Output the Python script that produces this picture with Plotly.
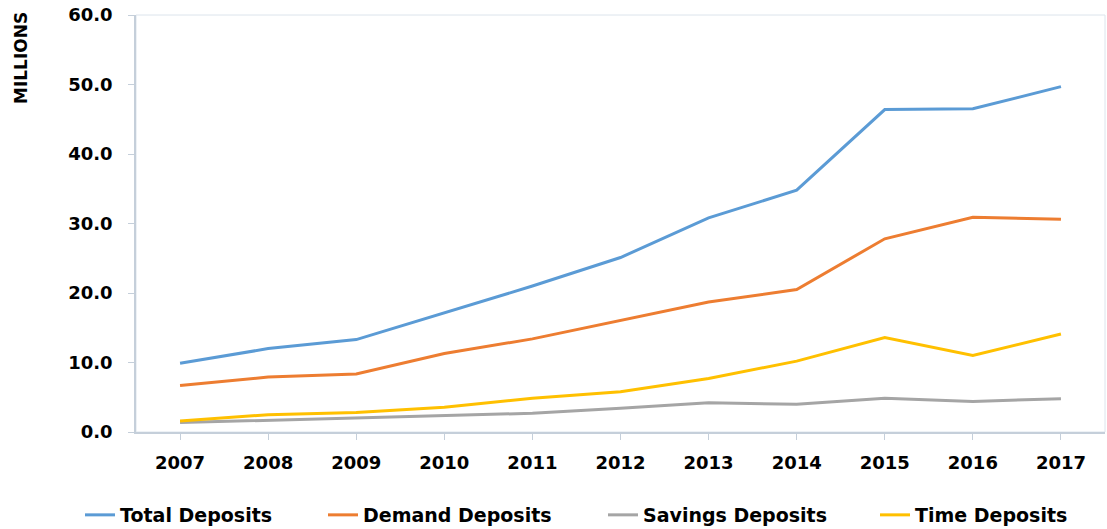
import plotly.graph_objects as go

years = ["2007", "2008", "2009", "2010", "2011", "2012", "2013", "2014", "2015", "2016", "2017"]
total_deposits = [9.9, 12.0, 13.3, 17.2, 21.0, 25.1, 30.8, 34.8, 46.4, 46.5, 49.7]
demand_deposits = [6.7, 7.9, 8.35, 11.3, 13.4, 16.0, 18.7, 20.5, 27.8, 30.9, 30.6]
savings_deposits = [1.35, 1.7, 2.05, 2.35, 2.7, 3.4, 4.2, 4.0, 4.85, 4.4, 4.8]
time_deposits = [1.6, 2.5, 2.8, 3.55, 4.85, 5.8, 7.7, 10.2, 13.6, 11.0, 14.1]

series = [
    ("Total Deposits", total_deposits, "#5B9BD5"),
    ("Demand Deposits", demand_deposits, "#ED7D31"),
    ("Savings Deposits", savings_deposits, "#A5A5A5"),
    ("Time Deposits", time_deposits, "#FFC000"),
]

font_family = "DejaVu Sans"
L, R, T, B = 136, 2, 15, 97
W, H = 1107, 529
pw = W - L - R
ph = H - T - B
legend_px = [80, 323, 603, 875]
legend_names = ["legend", "legend2", "legend3", "legend4"]

fig = go.Figure()
for (name, vals, color), lg in zip(series, legend_names):
    fig.add_trace(go.Scatter(x=years, y=vals, name=name, mode="lines",
                             line=dict(color=color, width=3), legend=lg))

legend_style = dict(orientation="h", xanchor="left", yanchor="middle",
                    bgcolor="rgba(0,0,0,0)",
                    font=dict(family=font_family, size=19, color="#000000", weight="bold"))
layout_legends = {}
for lg, px in zip(legend_names, legend_px):
    layout_legends[lg] = dict(legend_style, x=(px - L) / pw, y=-(515 - (H - B)) / ph)

fig.update_layout(
    width=W, height=H,
    margin=dict(l=L, r=R, t=T, b=B, autoexpand=False),
    paper_bgcolor="white", plot_bgcolor="white",
    font=dict(family=font_family, color="#000000"),
    showlegend=True,
    **layout_legends,
)
fig.update_xaxes(
    type="category", range=[-0.5, 10.5],
    showgrid=False, showline=True, linecolor="#C5CFDA", linewidth=1.5,
    ticks="outside", ticklen=6, tickcolor="#C5CFDA", ticklabelstandoff=8,
    tickfont=dict(family=font_family, size=18, color="#000000", weight="bold"),
)
fig.update_yaxes(
    range=[0, 60], dtick=10, tickformat=".1f",
    showgrid=False, showline=True, linecolor="#C5CFDA", linewidth=1.5,
    ticks="outside", ticklen=6, tickcolor="#C5CFDA", ticklabelstandoff=12,
    tickfont=dict(family=font_family, size=18, color="#000000", weight="bold"),
    zeroline=False,
)
fig.add_shape(type="rect", xref="paper", yref="paper", x0=0, x1=1, y0=0, y1=1,
              line=dict(color="#DCE4EC", width=1), layer="below")
fig.add_annotation(text="MILLIONS", xref="paper", yref="paper",
                   x=(21 - L) / pw, y=(H - B - 58) / ph, xanchor="center", yanchor="middle",
                   textangle=-90, showarrow=False,
                   font=dict(family=font_family, size=17, color="#000000", weight="bold"))

fig.write_html("out.html")
